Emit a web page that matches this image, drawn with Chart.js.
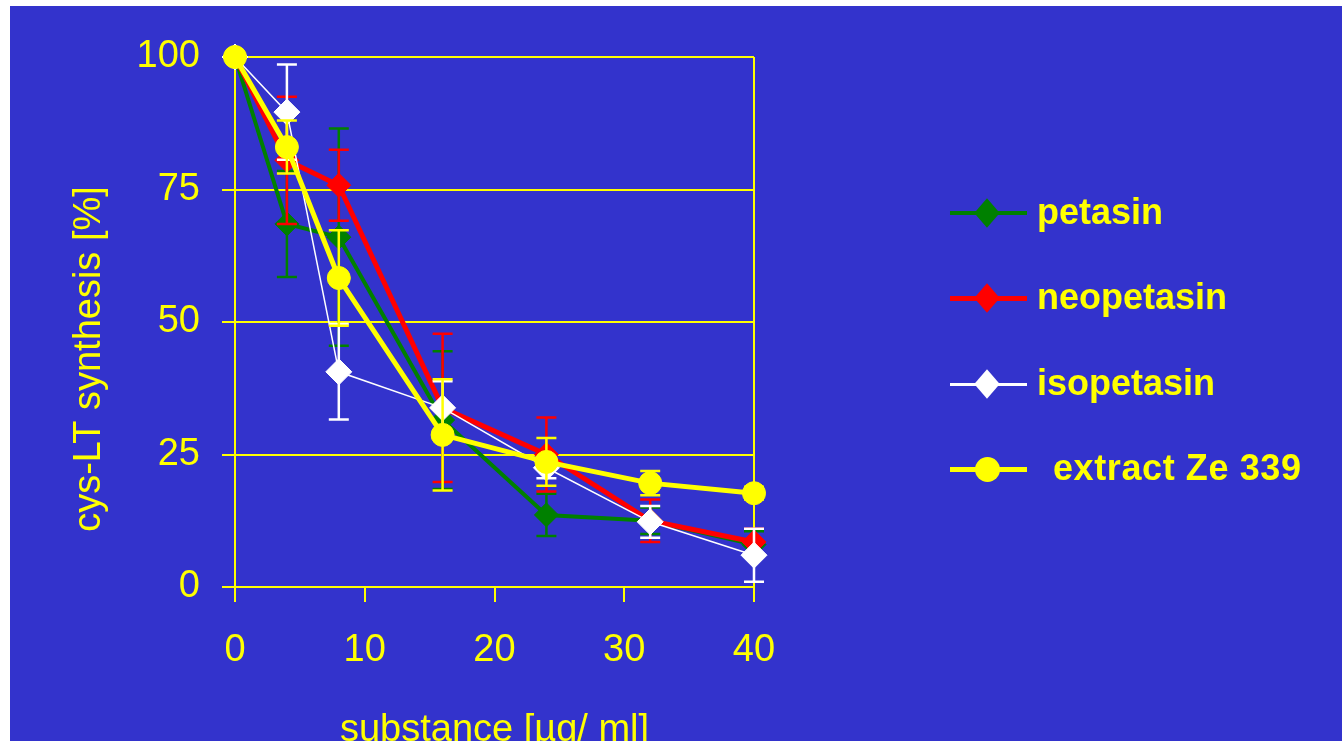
<!DOCTYPE html>
<html>
<head>
<meta charset="utf-8">
<script src="https://cdn.jsdelivr.net/npm/chart.js@4.4.1/dist/chart.umd.min.js"></script>
<style>
  html, body { margin: 0; padding: 0; background: #ffffff; overflow: hidden; width: 1342px; height: 741px; }
  #panel { position: absolute; left: 10px; top: 6px; right: 0; bottom: 0; background: #3333CC; }
  #wrap { position: absolute; left: 10px; top: 6px; width: 1332px; height: 760px; }
  .leg { position: absolute; left: 950px; height: 0; }
  .leg .line { position: absolute; left: 0; width: 77px; }
  .leg .mk { position: absolute; }
  .leg .txt { position: absolute; left: 87px; top: -22px; white-space: pre; font: bold 36px "Liberation Sans", Arial, sans-serif; color: #FFFF00; line-height: 42px; }
</style>
</head>
<body>
<div id="panel"></div>
<div id="wrap"><canvas id="chart"></canvas></div>
<div id="legend"></div>
<script>
// concentrations in µg/ml
const xValues = [0, 4, 8, 16, 24, 32, 40];

// cys-LT synthesis in %, with +/- error
const petasin = [100, 68.5, 66, 31.5, 13.6, 12.5, 8];
const petasinErr = [0, 10, 20.5, 13, 4, 2.5, 2.5];
const neopetasin = [100, 80.5, 75.8, 33.8, 25, 12.5, 8.5];
const neopetasinErr = [0, 12, 6.7, 14, 7, 4, 2.5];
const isopetasin = [100, 89.6, 40.6, 33.8, 22.5, 12.3, 6];
const isopetasinErr = [0, 9, 9, 5, 2, 3, 5];
const extractZe = [100, 83, 58.3, 28.7, 23.6, 19.6, 17.7];
const extractZeErr = [0, 5, 9, 10.5, 4.5, 2.3, 1.2];

const yTicks = [0, 25, 50, 75, 100];
const xTicks = [0, 10, 20, 30, 40];

const seriesNames = ['petasin', 'neopetasin', 'isopetasin', 'extract Ze 339'];
const yTitle = 'cys-LT synthesis [%]';
const xTitle = 'substance [µg/ ml]';

const YELLOW = '#FFFF00';
const fontFamily = '"Liberation Sans", Arial, sans-serif';
const axisFont = { family: fontFamily, size: 38 };

function points(values) {
    return xValues.map((x, i) => ({ x: x, y: values[i] }));
}

// draws vertical error bars right before each dataset so markers sit on top
const errorBars = {
    id: 'errorBars',
    beforeDatasetDraw(chart, args) {
        const ds = chart.data.datasets[args.index];
        if (!ds.errors) return;
        const yScale = chart.scales.y;
        const ctx = chart.ctx;
        ctx.save();
        ctx.strokeStyle = ds.borderColor;
        ctx.lineWidth = 2.5;
        args.meta.data.forEach((pt, i) => {
            const e = ds.errors[i];
            if (!e) return;
            const v = ds.data[i].y;
            const top = yScale.getPixelForValue(v + e);
            const bot = yScale.getPixelForValue(v - e);
            ctx.beginPath();
            ctx.moveTo(pt.x, top);
            ctx.lineTo(pt.x, bot);
            ctx.moveTo(pt.x - 10, top);
            ctx.lineTo(pt.x + 10, top);
            ctx.moveTo(pt.x - 10, bot);
            ctx.lineTo(pt.x + 10, bot);
            ctx.stroke();
        });
        ctx.restore();
    }
};

// y title sits a bit lower than the axis middle in the original
const yAxisTitle = {
    id: 'yAxisTitle',
    afterDraw(chart) {
        const ctx = chart.ctx;
        ctx.save();
        ctx.translate(80, 353);
        ctx.rotate(-Math.PI / 2);
        ctx.fillStyle = YELLOW;
        ctx.font = '38px ' + fontFamily;
        ctx.textAlign = 'center';
        ctx.textBaseline = 'middle';
        ctx.fillText(yTitle, 0, 0);
        ctx.restore();
    }
};

const datasets = [
    { label: seriesNames[0], data: points(petasin), errors: petasinErr, borderColor: '#008000', backgroundColor: '#008000',
      borderWidth: 4, pointStyle: 'rectRot', pointRadius: 12, order: 4 },
    { label: seriesNames[1], data: points(neopetasin), errors: neopetasinErr, borderColor: '#FF0000', backgroundColor: '#FF0000',
      borderWidth: 5, pointStyle: 'rectRot', pointRadius: 12, order: 3 },
    { label: seriesNames[2], data: points(isopetasin), errors: isopetasinErr, borderColor: '#FFFFFF', backgroundColor: '#FFFFFF',
      borderWidth: 1.5, pointStyle: 'rectRot', pointRadius: 13, order: 2 },
    { label: seriesNames[3], data: points(extractZe), errors: extractZeErr, borderColor: YELLOW, backgroundColor: YELLOW,
      borderWidth: 5, pointStyle: 'circle', pointRadius: 11.5, order: 1 }
];
datasets.forEach(d => { d.tension = 0; d.clip = false; d.pointBorderWidth = 1; d.pointHoverRadius = d.pointRadius; });

new Chart(document.getElementById('chart'), {
    type: 'line',
    data: { datasets: datasets },
    plugins: [errorBars, yAxisTitle],
    options: {
        responsive: true,
        maintainAspectRatio: false,
        animation: false,
        events: [],
        layout: { padding: { top: 51, right: 588, bottom: 0, left: 0 } },
        plugins: { legend: { display: false }, tooltip: { enabled: false } },
        scales: {
            x: {
                type: 'linear', min: 0, max: 40,
                afterFit: s => { s.height = 179; },
                afterBuildTicks: s => { s.ticks = xTicks.map(v => ({ value: v })); },
                ticks: { color: YELLOW, font: axisFont, padding: 26, maxRotation: 0 },
                grid: {
                    color: c => (c.tick && (c.tick.value === 0 || c.tick.value === 40)) ? YELLOW : 'rgba(0,0,0,0)',
                    tickColor: YELLOW, lineWidth: 2, tickWidth: 2, tickLength: 15
                },
                border: { color: YELLOW, width: 2 },
                title: { display: true, text: xTitle, color: YELLOW, font: axisFont, padding: { top: 0, bottom: 13 } }
            },
            y: {
                min: 0, max: 100,
                afterFit: s => { s.width = 225; },
                afterBuildTicks: s => { s.ticks = yTicks.map(v => ({ value: v })); },
                ticks: { color: YELLOW, font: axisFont, padding: 22 },
                grid: { color: YELLOW, tickColor: YELLOW, lineWidth: 2, tickWidth: 2, tickLength: 13 },
                border: { color: YELLOW, width: 2 },
                title: { display: false }
            }
        }
    }
});

// legend on the right: line with marker, then label
const legendRows = [213, 298, 384, 469];
const legendLine = [4, 5, 3, 5];
const legendTextShift = [0, 0, 0, 16];
const legendEl = document.getElementById('legend');
datasets.forEach((d, i) => {
    const row = document.createElement('div');
    row.className = 'leg';
    row.style.top = legendRows[i] + 'px';
    const line = document.createElement('div');
    line.className = 'line';
    line.style.height = legendLine[i] + 'px';
    line.style.top = (-legendLine[i] / 2) + 'px';
    line.style.background = d.borderColor;
    const mk = document.createElement('div');
    mk.className = 'mk';
    if (d.pointStyle === 'circle') {
        mk.style.cssText = 'width:25px;height:25px;left:25px;top:-12.5px;border-radius:50%;background:' + d.borderColor;
    } else {
        mk.style.cssText = 'width:18px;height:18px;left:28px;top:-9px;transform:scaleY(1.15) rotate(45deg);background:' + d.borderColor;
    }
    const txt = document.createElement('div');
    txt.className = 'txt';
    txt.style.left = (87 + legendTextShift[i]) + 'px';
    if (i === 3) txt.style.letterSpacing = '0.6px';
    txt.textContent = d.label;
    row.appendChild(line);
    row.appendChild(mk);
    row.appendChild(txt);
    legendEl.appendChild(row);
});
</script>
</body>
</html>
